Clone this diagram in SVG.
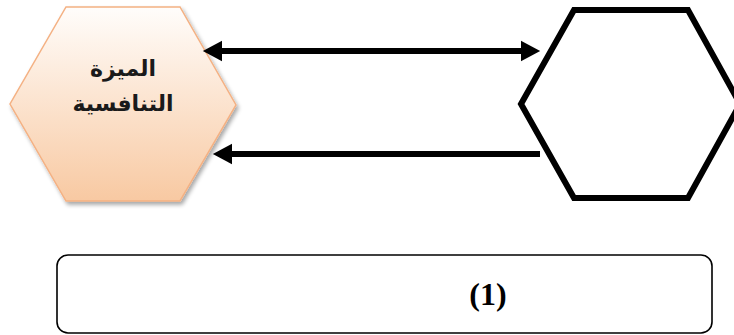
<svg xmlns="http://www.w3.org/2000/svg" width="734" height="335" viewBox="0 0 734 335">
<defs>
<linearGradient id="peach" x1="0" y1="0" x2="0" y2="1">
<stop offset="0" stop-color="#fffdfb"/>
<stop offset="1" stop-color="#f8c9a2"/>
</linearGradient>
<filter id="sh" x="-10%" y="-10%" width="130%" height="130%">
<feGaussianBlur in="SourceAlpha" stdDeviation="2"/>
<feOffset dx="2" dy="3" result="b"/>
<feComponentTransfer><feFuncA type="linear" slope="0.35"/></feComponentTransfer>
<feMerge><feMergeNode/><feMergeNode in="SourceGraphic"/></feMerge>
</filter>
<marker id="ah" markerWidth="4" markerHeight="4" refX="0" refY="2" orient="auto-start-reverse" markerUnits="strokeWidth">
<path d="M0,0.3 L3.2,2 L0,3.7 Z" fill="#000"/>
</marker>
<style>
.lbl{font-family:"DejaVu Sans","Noto Sans",sans-serif;font-weight:bold;font-size:22px;fill:#1a1a1a;text-anchor:middle}
.num{font-family:"Liberation Serif",serif;font-weight:bold;font-size:32px;fill:#000;text-anchor:middle}
.conn{stroke:#000;stroke-width:6;fill:none}
</style>
</defs>
<g id="node-advantage">
<polygon points="66,7 180,7 236,105 180,201 66,201 10,104" fill="url(#peach)" stroke="#f4b183" stroke-width="1.5" filter="url(#sh)"/>
<text class="lbl" x="123" y="76" direction="rtl">الميزة</text>
<text class="lbl" x="123" y="111" direction="rtl">التنافسية</text>
</g>
<g id="node-right">
<polygon points="574,10 688,10 740,104 688,198 574,198 521,104" fill="#fff" stroke="#000" stroke-width="6"/>
</g>
<g id="connectors">
<line class="conn" x1="222" y1="51" x2="521" y2="51" marker-start="url(#ah)" marker-end="url(#ah)"/>
<line class="conn" x1="540" y1="154" x2="232" y2="154" marker-end="url(#ah)"/>
</g>
<g id="node-caption">
<rect x="57" y="255" width="655" height="78" rx="11" fill="none" stroke="#000" stroke-width="1.6"/>
<text class="num" x="488" y="305">(1)</text>
</g>
</svg>
